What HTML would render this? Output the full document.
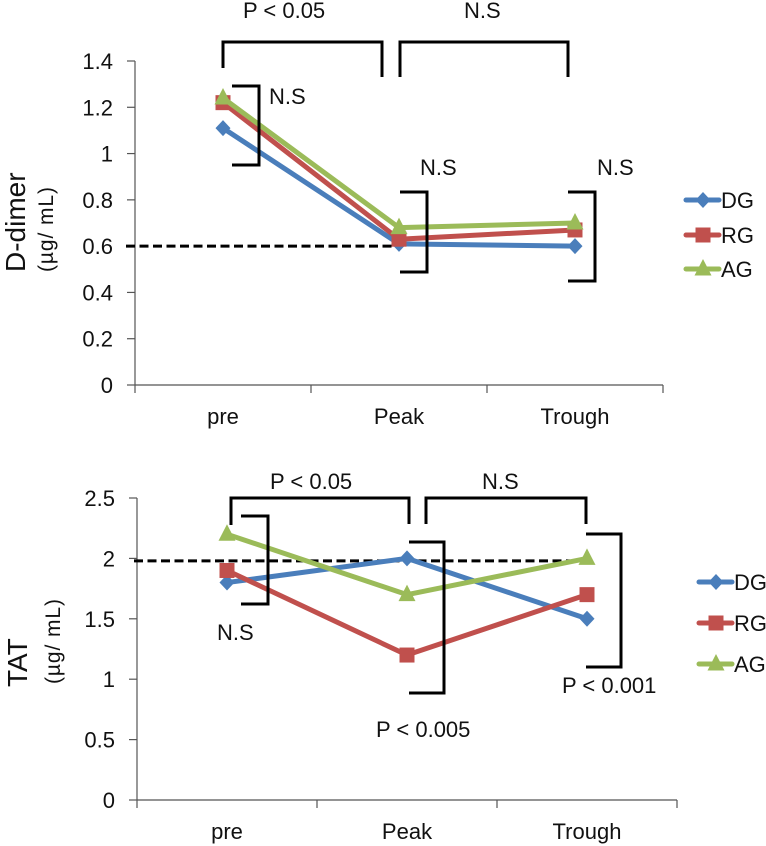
<!DOCTYPE html>
<html lang="en">
<head>
<meta charset="utf-8">
<title>D-dimer and TAT charts</title>
<style>
html,body{margin:0;padding:0;background:#fff;width:766px;height:846px;overflow:hidden}
svg{display:block}
text{font-family:"Liberation Sans",Arial,sans-serif;fill:#111}
</style>
</head>
<body>
<svg id="figure" xmlns="http://www.w3.org/2000/svg" width="766" height="846" viewBox="0 0 766 846">
  <g id="chart-top"></g>
  <g id="chart-bottom"></g>
  <g fill="none" stroke="#000" stroke-width="3">
    <path d="M223 68V42H382V77"/>
    <path d="M400 77V42H568V77"/>
    <path d="M232 86H259V165H232"/>
    <path d="M400 192H427V272H400"/>
    <path d="M568 192H595V281H568"/>
  </g>
  <g font-size="22">
    <text x="243" y="18">P &lt; 0.05</text>
    <text x="464" y="18">N.S</text>
    <text x="269" y="104">N.S</text>
    <text x="420" y="175">N.S</text>
    <text x="597" y="175">N.S</text>
  </g>
  <g fill="none" stroke="#000" stroke-width="3">
    <path d="M231 525V498H409V524"/>
    <path d="M426 524V498H586V524"/>
    <path d="M241 516H268V604H241"/>
    <path d="M409 542H444V693H409"/>
    <path d="M586 534H621V667H586"/>
  </g>
  <g font-size="22">
    <text x="270" y="489">P &lt; 0.05</text>
    <text x="482" y="489">N.S</text>
    <text x="217" y="640">N.S</text>
    <text x="376" y="737">P &lt; 0.005</text>
    <text x="562" y="693">P &lt; 0.001</text>
  </g>
</svg>
<script>
const categories = ["pre", "Peak", "Trough"];
const seriesNames = ["DG", "RG", "AG"];
const ddimerDG = [1.11, 0.61, 0.60];
const ddimerRG = [1.22, 0.63, 0.67];
const ddimerAG = [1.24, 0.68, 0.70];
const ddimerTicks = ["0", "0.2", "0.4", "0.6", "0.8", "1", "1.2", "1.4"];
const ddimerReference = [0.6];
const tatDG = [1.8, 2.0, 1.5];
const tatRG = [1.9, 1.2, 1.7];
const tatAG = [2.2, 1.7, 2.0];
const tatTicks = ["0", "0.5", "1", "1.5", "2", "2.5"];
const tatReference = [1.98];

const NS = "http://www.w3.org/2000/svg";
const COLORS = ["#4a7ebb", "#c0504d", "#9bbb59"];

function mk(parent, tag, attrs, txt) {
  const el = document.createElementNS(NS, tag);
  for (const k in attrs) el.setAttribute(k, attrs[k]);
  if (txt !== undefined) el.textContent = txt;
  parent.appendChild(el);
  return el;
}

function marker(parent, kind, x, y, color, name) {
  let el;
  if (kind === 0) {
    el = mk(parent, "polygon", {points: [x, y - 8, x + 7.5, y, x, y + 8, x - 7.5, y].join(" "), fill: color});
  } else if (kind === 1) {
    el = mk(parent, "rect", {x: x - 7.5, y: y - 7.5, width: 15, height: 15, fill: color});
  } else {
    el = mk(parent, "polygon", {points: [x, y - 10, x + 8.5, y + 6.5, x - 8.5, y + 6.5].join(" "), fill: color});
  }
  
  
}

function drawChart(root, o) {
  const xStep = (o.right - o.left) / categories.length;
  const maxVal = parseFloat(o.ticks[o.ticks.length - 1]);
  const xs = i => o.left + xStep * (i + 0.5);
  const ys = v => o.bottom - (o.bottom - o.top) * v / maxVal;

  const axis = mk(root, "g", {stroke: "#555", "stroke-width": 1.2, fill: "none"});
  
  
  mk(axis, "line", {x1: o.left, x2: o.left, y1: o.top, y2: o.bottom});
  mk(axis, "line", {x1: o.left, x2: o.right, y1: o.bottom, y2: o.bottom});

  o.ticks.forEach(t => {
    const y = ys(parseFloat(t));
    const tick = mk(axis, "line", {x1: o.left - 8, x2: o.left, y1: y, y2: y});
    
    
    const lab = mk(root, "text", {x: o.left - 22, y: y + 8, "text-anchor": "end", "font-size": 22}, t);
    
    
  });
  for (let i = 0; i <= categories.length; i++) {
    const x = o.left + xStep * i;
    const tick = mk(axis, "line", {x1: x, x2: x, y1: o.bottom, y2: o.bottom + 8});
    
    
  }
  categories.forEach((c, i) => {
    const lab = mk(root, "text", {x: xs(i), y: o.bottom + o.catDy, "text-anchor": "middle", "font-size": 22}, c);
    
    
  });

  const refY = ys(o.reference[0]);
  const dash = mk(root, "line", {x1: o.dashFrom, x2: o.dashTo, y1: refY, y2: refY, stroke: "#000", "stroke-width": 3, "stroke-dasharray": "9 4.5"});
  
  

  o.series.forEach((vals, s) => {
    const g = mk(root, "g", {});
    
    
    const line = mk(g, "polyline", {
      points: vals.map((v, i) => xs(i) + "," + ys(v)).join(" "),
      fill: "none", stroke: COLORS[s], "stroke-width": 5, "stroke-linejoin": "round"
    });
    
    
    vals.forEach((v, i) => marker(g, s, xs(i), ys(v), COLORS[s], 'series-point'));
  });

  seriesNames.forEach((n, s) => {
    const y = o.legendY[s];
    const g = mk(root, "g", {});
    
    
    mk(g, "line", {x1: o.legendX, x2: o.legendX + 33, y1: y, y2: y, stroke: COLORS[s], "stroke-width": 5, "stroke-linecap": "round"});
    marker(g, s, o.legendX + 17, y, COLORS[s], 'legend-marker');
    mk(g, "text", {x: o.legendX + 35, y: y + 8, "font-size": 22}, n);
  });

  const t1 = mk(root, "text", {transform: "translate(" + o.titleX + "," + o.titleY + ") rotate(-90)", "font-size": 28}, o.title);
  
  
  const t2 = mk(root, "text", {transform: "translate(" + o.unitX + "," + o.unitY + ") rotate(-90)", "font-size": 21, textLength: 85, lengthAdjust: "spacing"}, "(µg/ mL)");
  
  
}

drawChart(document.getElementById("chart-top"), {
  left: 135, right: 663, top: 61, bottom: 385, catDy: 39,
  ticks: ddimerTicks, series: [ddimerDG, ddimerRG, ddimerAG], reference: ddimerReference,
  dashFrom: 126, dashTo: 402, legendX: 686, legendY: [200, 235, 269],
  title: "D-dimer", titleX: 25, titleY: 272, unitX: 53, unitY: 272
});
drawChart(document.getElementById("chart-bottom"), {
  left: 137, right: 677, top: 498, bottom: 800, catDy: 39,
  ticks: tatTicks, series: [tatDG, tatRG, tatAG], reference: tatReference,
  dashFrom: 134, dashTo: 570, legendX: 699, legendY: [582, 623, 664],
  title: "TAT", titleX: 27, titleY: 687, unitX: 60, unitY: 684
});
</script>
</body>
</html>
